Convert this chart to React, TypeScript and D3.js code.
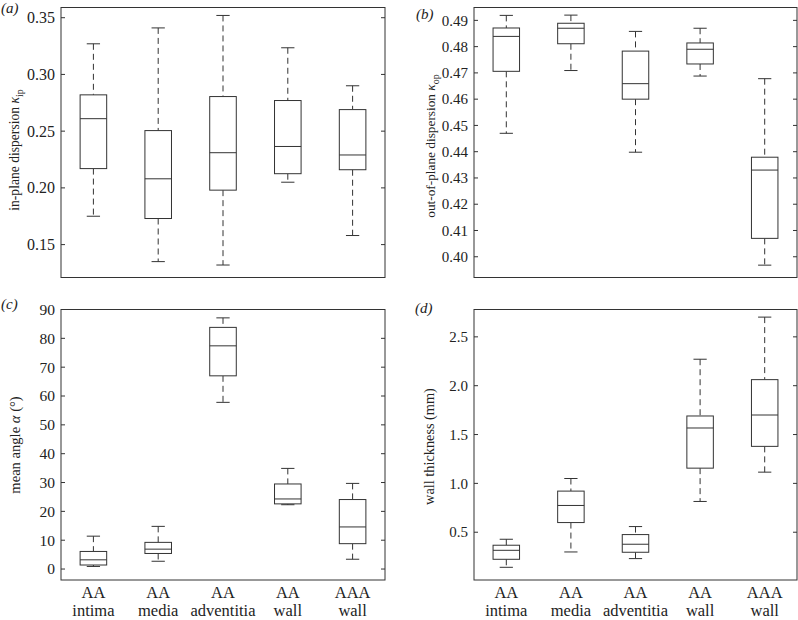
import React from "react";
import * as d3 from "d3";

// five-number summaries: [lower whisker, Q1, median, Q3, upper whisker]
const categories = [
  ["AA", "intima"],
  ["AA", "media"],
  ["AA", "adventitia"],
  ["AA", "wall"],
  ["AAA", "wall"],
];

const kappaIp = [
  [0.175, 0.217, 0.261, 0.282, 0.327],
  [0.135, 0.173, 0.208, 0.2505, 0.341],
  [0.132, 0.198, 0.231, 0.2805, 0.352],
  [0.205, 0.2125, 0.2365, 0.277, 0.3235],
  [0.158, 0.216, 0.229, 0.269, 0.29],
];

const kappaOp = [
  [0.447, 0.4706, 0.4839, 0.4871, 0.4919],
  [0.4709, 0.4811, 0.487, 0.4889, 0.492],
  [0.4398, 0.46, 0.4659, 0.4783, 0.4858],
  [0.4688, 0.4734, 0.479, 0.4814, 0.487],
  [0.3968, 0.407, 0.433, 0.4379, 0.4678],
];

const meanAngle = [
  [0.9, 1.4, 3.2, 6.1, 11.4],
  [2.7, 5.4, 6.9, 9.25, 14.8],
  [57.8, 67.0, 77.4, 83.8, 87.1],
  [22.3, 22.6, 24.3, 29.5, 34.9],
  [3.4, 8.8, 14.6, 24.1, 29.7],
];

const wallThickness = [
  [0.141, 0.223, 0.315, 0.367, 0.428],
  [0.298, 0.599, 0.774, 0.921, 1.05],
  [0.23, 0.295, 0.377, 0.476, 0.558],
  [0.815, 1.156, 1.567, 1.69, 2.271],
  [1.115, 1.379, 1.7, 2.062, 2.702],
];

const ticksA = [0.15, 0.2, 0.25, 0.3, 0.35];
const ticksB = [0.4, 0.41, 0.42, 0.43, 0.44, 0.45, 0.46, 0.47, 0.48, 0.49];
const ticksC = [0, 10, 20, 30, 40, 50, 60, 70, 80, 90];
const ticksD = [0.5, 1.0, 1.5, 2.0, 2.5];

const FONT = "'Liberation Serif', 'Times New Roman', serif";
const INK = "#333";
const TEXT = "#222";

interface PanelProps {
  letter: string;
  letterX: number;
  letterY: number;
  x0: number;
  x1: number;
  y0: number;
  y1: number;
  domain: [number, number];
  ticks: number[];
  tickSize: number;
  fmt: (v: number) => string;
  data: number[][];
  label: React.ReactNode;
  labelX: number;
  labelY: number;
  labelSize: number;
  showCats?: boolean;
}

function Panel(p: PanelProps) {
  const { x0, x1, y0, y1 } = p;
  const x = d3.scalePoint<number>().domain(d3.range(categories.length)).range([x0, x1]).padding(0.5);
  const y = d3.scaleLinear().domain(p.domain).range([y1, y0]);
  const bw = x.step() * 0.41;
  const cw = bw / 2;

  return (
    <g>
      <text x={p.letterX} y={p.letterY} fontFamily={FONT} fontSize={15} fontStyle="italic" fill={TEXT}>
        ({p.letter})
      </text>
      <rect x={x0} y={y0} width={x1 - x0} height={y1 - y0} fill="none" stroke={INK} strokeWidth={1} />
      {p.ticks.map((t) => (
        <g key={t}>
          <line x1={x0} x2={x0 + 4} y1={y(t)} y2={y(t)} stroke={INK} />
          <line x1={x1 - 4} x2={x1} y1={y(t)} y2={y(t)} stroke={INK} />
          <text
            x={x0 - 6}
            y={y(t)}
            dy="0.35em"
            textAnchor="end"
            fontFamily={FONT}
            fontSize={p.tickSize}
            fill={TEXT}
          >
            {p.fmt(t)}
          </text>
        </g>
      ))}
      {p.data.map((d, i) => {
        const cx = x(i) as number;
        const [lo, q1, med, q3, hi] = d;
        return (
          <g key={i} stroke={INK} strokeWidth={1} fill="none">
            <line x1={cx} x2={cx} y1={y(hi)} y2={y(q3)} strokeDasharray="6,4" />
            <line x1={cx} x2={cx} y1={y(q1)} y2={y(lo)} strokeDasharray="6,4" />
            <line x1={cx - cw / 2} x2={cx + cw / 2} y1={y(hi)} y2={y(hi)} />
            <line x1={cx - cw / 2} x2={cx + cw / 2} y1={y(lo)} y2={y(lo)} />
            <rect x={cx - bw / 2} y={y(q3)} width={bw} height={y(q1) - y(q3)} fill="#fff" />
            <line x1={cx - bw / 2} x2={cx + bw / 2} y1={y(med)} y2={y(med)} />
          </g>
        );
      })}
      {p.showCats &&
        categories.map((c, i) => (
          <text key={i} textAnchor="middle" fontFamily={FONT} fontSize={16.5} fill={TEXT}>
            <tspan x={x(i) as number} y={y1 + 18}>{c[0]}</tspan>
            <tspan x={x(i) as number} y={y1 + 36}>{c[1]}</tspan>
          </text>
        ))}
      <text
        transform={`translate(${p.labelX},${p.labelY}) rotate(-90)`}
        textAnchor="middle"
        fontFamily={FONT}
        fontSize={p.labelSize}
        fill={TEXT}
      >
        {p.label}
      </text>
    </g>
  );
}

export default function App() {
  const f2 = (v: number) => v.toFixed(2);
  const f1 = (v: number) => v.toFixed(1);
  const f0 = (v: number) => v.toFixed(0);
  return (
    <svg
      width={798}
      height={620}
      style={{ position: "absolute", left: 0, top: 0, background: "#fff" }}
    >
      <Panel
        letter="a"
        letterX={1}
        letterY={13}
        x0={61}
        x1={385}
        y0={7.5}
        y1={277.5}
        domain={[0.121, 0.359]}
        ticks={ticksA}
        tickSize={16}
        fmt={f2}
        data={kappaIp}
        labelX={18.5}
        labelY={150}
        labelSize={13.6}
        label={
          <>
            in-plane dispersion <tspan fontStyle="italic">κ</tspan>
            <tspan fontSize={10} dy={4}>ip</tspan>
          </>
        }
      />
      <Panel
        letter="b"
        letterX={416}
        letterY={18.5}
        x0={474}
        x1={797}
        y0={7.5}
        y1={277.5}
        domain={[0.3921, 0.4949]}
        ticks={ticksB}
        tickSize={15}
        fmt={f2}
        data={kappaOp}
        labelX={434.5}
        labelY={146}
        labelSize={13.3}
        label={
          <>
            out-of-plane dispersion <tspan fontStyle="italic">κ</tspan>
            <tspan fontSize={10} dy={4}>op</tspan>
          </>
        }
      />
      <Panel
        letter="c"
        letterX={1}
        letterY={309}
        x0={61}
        x1={385}
        y0={309.5}
        y1={580}
        domain={[-3.8, 90]}
        ticks={ticksC}
        tickSize={15.5}
        fmt={f0}
        data={meanAngle}
        labelX={20}
        labelY={445}
        labelSize={14.6}
        showCats
        label={
          <>
            mean angle <tspan fontStyle="italic">α</tspan> (°)
          </>
        }
      />
      <Panel
        letter="d"
        letterX={415}
        letterY={313}
        x0={474}
        x1={797}
        y0={309.5}
        y1={580}
        domain={[0.011, 2.78]}
        ticks={ticksD}
        tickSize={15}
        fmt={f1}
        data={wallThickness}
        labelX={434}
        labelY={446.5}
        labelSize={14.3}
        showCats
        label={<>wall thickness (mm)</>}
      />
    </svg>
  );
}
